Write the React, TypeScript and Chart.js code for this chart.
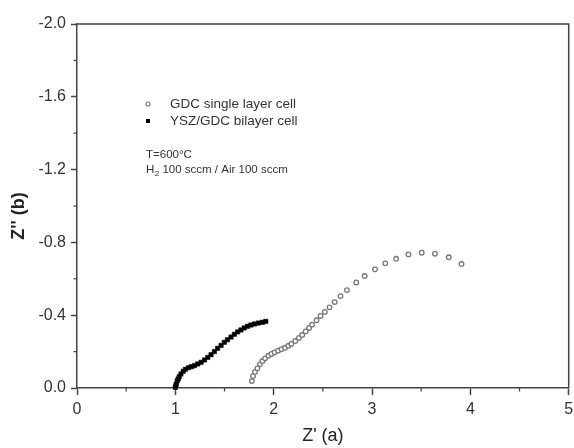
import React, { useEffect, useRef } from 'react';
import { Chart, registerables } from 'chart.js';

Chart.register(...registerables);

// GDC single layer cell (open circles)
const gdcZReal = [1.778, 1.79, 1.81, 1.835, 1.86, 1.886, 1.913, 1.946, 1.977, 2.01, 2.045, 2.08, 2.115, 2.15, 2.18, 2.22, 2.257, 2.29, 2.325, 2.36, 2.39, 2.436, 2.477, 2.52, 2.568, 2.62, 2.68, 2.745, 2.84, 2.925, 3.03, 3.135, 3.245, 3.37, 3.505, 3.64, 3.78, 3.91];
const gdcZImag = [-0.038, -0.066, -0.088, -0.108, -0.13, -0.148, -0.163, -0.177, -0.187, -0.196, -0.205, -0.213, -0.221, -0.232, -0.242, -0.258, -0.275, -0.291, -0.311, -0.33, -0.348, -0.372, -0.396, -0.418, -0.443, -0.472, -0.505, -0.538, -0.58, -0.615, -0.652, -0.685, -0.71, -0.734, -0.743, -0.738, -0.718, -0.681];

// YSZ/GDC bilayer cell (filled squares)
const yszZReal = [1.0, 1.005, 1.01, 1.02, 1.03, 1.04, 1.057, 1.08, 1.103, 1.134, 1.164, 1.194, 1.228, 1.262, 1.296, 1.33, 1.363, 1.397, 1.43, 1.465, 1.498, 1.53, 1.566, 1.6, 1.633, 1.667, 1.7, 1.734, 1.768, 1.805, 1.845, 1.885, 1.92];
const yszZImag = [-0.004, -0.012, -0.022, -0.04, -0.05, -0.062, -0.077, -0.092, -0.103, -0.112, -0.117, -0.123, -0.132, -0.141, -0.154, -0.168, -0.183, -0.2, -0.218, -0.234, -0.251, -0.265, -0.28, -0.295, -0.308, -0.319, -0.33, -0.339, -0.346, -0.352, -0.357, -0.361, -0.366];

const seriesLabels = ['GDC single layer cell', 'YSZ/GDC bilayer cell'];
const noteTemperature = 'T=600°C';
const noteGasMain = 'H';
const noteGasSub = '2';
const noteGasRest = ' 100 sccm / Air 100 sccm';
const xAxisTitle = "Z' (a)";
const yAxisTitle = "Z'' (b)";

const xMin = 0;
const xMax = 5;
const xStep = 0.5;
const yMin = -2;
const yMax = 0;
const yStep = 0.2;

const FONT = "Arial, 'Liberation Sans', sans-serif";
const AXIS = '#444444';

const isMajorX = (v: number) => Math.abs(v - Math.round(v)) < 1e-6;
const isMajorY = (v: number) => Math.round(v * 10) % 4 === 0;

const decorPlugin = {
  id: 'decor',
  afterDraw(chart: any) {
    const { ctx, chartArea, scales } = chart;
    const { left, right, top, bottom } = chartArea;
    ctx.save();
    ctx.strokeStyle = AXIS;
    ctx.lineWidth = 1.5;
    // top and right frame
    ctx.beginPath();
    ctx.moveTo(left, top);
    ctx.lineTo(right, top);
    ctx.lineTo(right, bottom);
    ctx.stroke();
    // minor ticks
    ctx.lineWidth = 1.2;
    scales.x.ticks.forEach((t: any) => {
      if (!isMajorX(t.value)) {
        const px = scales.x.getPixelForValue(t.value);
        ctx.beginPath();
        ctx.moveTo(px, bottom);
        ctx.lineTo(px, bottom + 3.5);
        ctx.stroke();
      }
    });
    scales.y.ticks.forEach((t: any) => {
      if (!isMajorY(t.value)) {
        const py = scales.y.getPixelForValue(t.value);
        ctx.beginPath();
        ctx.moveTo(left - 3.5, py);
        ctx.lineTo(left, py);
        ctx.stroke();
      }
    });

    // legend
    const lx = left + 71;
    const ly1 = top + 80;
    const ly2 = top + 97;
    const ds = chart.data.datasets;
    ctx.fillStyle = '#fff';
    ctx.strokeStyle = ds[0].borderColor;
    ctx.lineWidth = 1.1;
    ctx.beginPath();
    ctx.arc(lx, ly1, 2, 0, Math.PI * 2);
    ctx.fill();
    ctx.stroke();
    ctx.fillStyle = ds[1].backgroundColor;
    ctx.fillRect(lx - 2, ly2 - 2, 4, 4);

    ctx.fillStyle = '#333';
    ctx.textBaseline = 'middle';
    ctx.textAlign = 'left';
    ctx.font = `13.5px ${FONT}`;
    ctx.fillText(ds[0].label, lx + 22, ly1);
    ctx.fillText(ds[1].label, lx + 22, ly2);

    // notes
    const nx = left + 69;
    ctx.font = `11.5px ${FONT}`;
    ctx.fillText(noteTemperature, nx, top + 131);
    const gy = top + 146;
    ctx.fillText(noteGasMain, nx, gy);
    const hw = ctx.measureText(noteGasMain).width;
    ctx.font = `8px ${FONT}`;
    ctx.fillText(noteGasSub, nx + hw + 0.5, gy + 4);
    const sw = ctx.measureText(noteGasSub).width;
    ctx.font = `11.5px ${FONT}`;
    ctx.fillText(noteGasRest, nx + hw + sw + 0.5, gy);
    ctx.restore();
  },
};

export default function App() {
  const ref = useRef<HTMLCanvasElement | null>(null);

  useEffect(() => {
    document.body.style.margin = '0';
    const canvas = ref.current;
    if (!canvas) return;
    const chart = new Chart(canvas, {
      type: 'scatter',
      data: {
        datasets: [
          {
            label: seriesLabels[0],
            data: gdcZReal.map((x, i) => ({ x, y: gdcZImag[i] })),
            pointStyle: 'circle',
            pointRadius: 2.3,
            borderColor: '#777777',
            backgroundColor: '#ffffff',
            pointBorderWidth: 1.3,
            showLine: false,
            clip: false,
          },
          {
            label: seriesLabels[1],
            data: yszZReal.map((x, i) => ({ x, y: yszZImag[i] })),
            pointStyle: 'rect',
            pointRadius: 3.1,
            borderColor: '#000000',
            backgroundColor: '#000000',
            pointBorderWidth: 0.5,
            showLine: false,
            clip: false,
          },
        ],
      },
      options: {
        responsive: false,
        animation: false,
        devicePixelRatio: 1,
        layout: { padding: { top: 24, right: 3, left: 0, bottom: 0 } },
        plugins: {
          legend: { display: false },
          tooltip: { enabled: false },
        },
        scales: {
          x: {
            type: 'linear',
            min: xMin,
            max: xMax,
            ticks: {
              stepSize: xStep,
              autoSkip: false,
              maxRotation: 0,
              padding: 5,
              color: '#333',
              font: { family: FONT, size: 16 },
              callback: (v: any) => (isMajorX(Number(v)) ? String(Math.round(Number(v))) : ''),
            },
            grid: {
              display: true,
              drawOnChartArea: false,
              drawTicks: true,
              tickLength: 7,
              tickWidth: 1.5,
              tickColor: (c: any) => (c.tick && isMajorX(c.tick.value) ? AXIS : 'rgba(0,0,0,0)'),
            },
            border: { display: true, color: AXIS, width: 1.5 },
            title: {
              display: true,
              text: xAxisTitle,
              color: '#222',
              font: { family: FONT, size: 18 },
              padding: { top: 0, bottom: 1 },
            },
            afterFit: (s: any) => {
              s.height = 60;
              s.paddingLeft = 0;
              s.paddingRight = 0;
            },
          },
          y: {
            type: 'linear',
            min: yMin,
            max: yMax,
            reverse: true,
            ticks: {
              stepSize: yStep,
              autoSkip: false,
              padding: 5,
              color: '#333',
              font: { family: FONT, size: 16 },
              callback: (v: any) => {
                const n = Number(v);
                if (!isMajorY(n)) return '';
                const r = Math.round(n * 10) / 10;
                return (Math.abs(r) < 1e-9 ? 0 : r).toFixed(1);
              },
            },
            grid: {
              display: true,
              drawOnChartArea: false,
              drawTicks: true,
              tickLength: 6,
              tickWidth: 1.5,
              tickColor: (c: any) => (c.tick && isMajorY(c.tick.value) ? AXIS : 'rgba(0,0,0,0)'),
            },
            border: { display: true, color: AXIS, width: 1.5 },
            title: {
              display: true,
              text: yAxisTitle + '    ',
              color: '#222',
              font: { family: FONT, size: 18, weight: 'bold' },
              padding: { top: 8, bottom: 0 },
            },
            afterFit: (s: any) => {
              s.width = 77;
              s.paddingTop = 0;
              s.paddingBottom = 0;
            },
          },
        },
      },
      plugins: [decorPlugin],
    } as any);
    return () => chart.destroy();
  }, []);

  return (
    <div style={{ width: 574, height: 448 }}>
      <canvas ref={ref} width={574} height={448} style={{ display: 'block' }} />
    </div>
  );
}
